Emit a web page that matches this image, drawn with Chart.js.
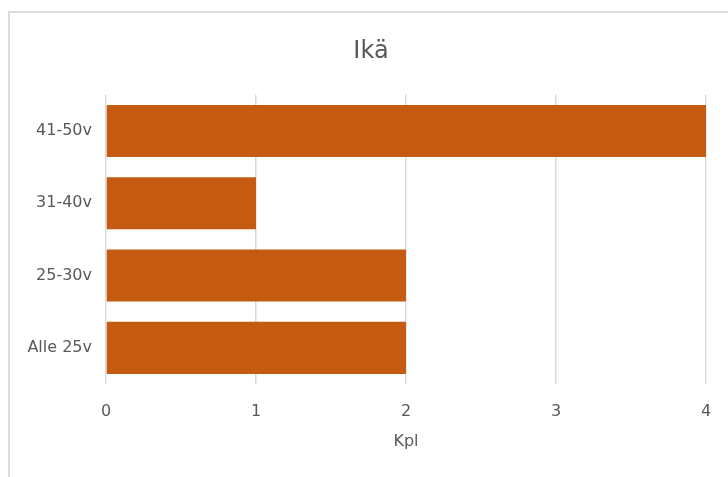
<!DOCTYPE html>
<html>
<head>
<meta charset="utf-8">
<script src="https://cdn.jsdelivr.net/npm/chart.js@4"></script>
<style>
  html, body { margin: 0; padding: 0; background: #ffffff; overflow: hidden; }
  #frame { position: absolute; left: 8px; top: 11px; width: 800px; height: 600px; border: 2px solid #dcdcdc; }
  #ika { position: absolute; left: 0; top: 0; }
</style>
</head>
<body>
<div id="frame"></div>
<canvas id="ika" width="728" height="477"></canvas>
<script>
// Kaavion tiedot
const ikaluokat = ["41-50v", "31-40v", "25-30v", "Alle 25v"];
const lukumaarat = [4, 1, 2, 2];
const otsikko = "Ikä";
const akselinNimi = "Kpl";

const tekstiVari = "#595959";
const fontti = "'DejaVu Sans', sans-serif";

new Chart(document.getElementById("ika"), {
  type: "bar",
  data: {
    labels: ikaluokat,
    datasets: [{
      data: lukumaarat,
      backgroundColor: "#c55a11",
      borderWidth: 0,
      barPercentage: 0.72,
      categoryPercentage: 1
    }]
  },
  options: {
    indexAxis: "y",
    responsive: false,
    animation: false,
    devicePixelRatio: 1,
    layout: { padding: { left: 14, right: 0, top: 0, bottom: 0 } },
    plugins: {
      legend: { display: false },
      tooltip: { enabled: false },
      title: {
        display: true,
        text: otsikko,
        color: tekstiVari,
        font: { family: fontti, size: 24, weight: "normal" },
        padding: { top: 37, bottom: 29 }
      }
    },
    scales: {
      x: {
        min: 0,
        max: 4,
        ticks: { stepSize: 1, color: tekstiVari, padding: 18, font: { family: fontti, size: 16 } },
        grid: { color: "#d9d9d9", lineWidth: 1.5, drawTicks: false },
        border: { display: false },
        title: {
          display: true,
          text: akselinNimi,
          color: tekstiVari,
          font: { family: fontti, size: 16 },
          padding: { top: 0, bottom: 26 }
        },
        afterFit: function (s) {
          s.height = 93;
          s.paddingLeft = 0;
          s.paddingRight = 0;
        }
      },
      y: {
        ticks: { color: tekstiVari, padding: 14, font: { family: fontti, size: 16 } },
        grid: { display: false, drawTicks: false },
        border: { display: false },
        afterFit: function (s) { s.width = 92; }
      },
      // tyhjä akseli oikealle reunalle, jotta kuvaaja päättyy oikeaan kohtaan
      oikea: {
        type: "category",
        position: "right",
        ticks: { display: false },
        grid: { display: false, drawTicks: false },
        border: { display: false },
        afterFit: function (s) { s.width = 22; }
      }
    }
  }
});
</script>
</body>
</html>
